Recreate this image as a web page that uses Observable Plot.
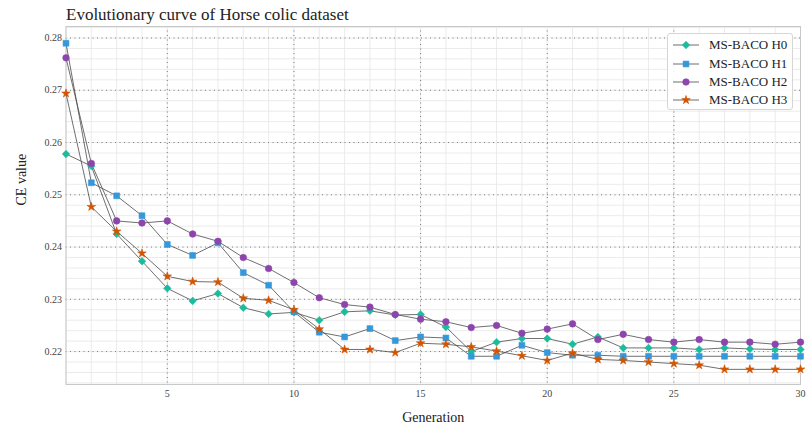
<!DOCTYPE html>
<html>
<head>
<meta charset="utf-8">
<script src="https://cdn.jsdelivr.net/npm/d3@7"></script>
<script src="https://cdn.jsdelivr.net/npm/@observablehq/plot@0.6"></script>
<style>
  body { margin: 0; background: #fff; font-family: "Liberation Serif", "Times New Roman", serif; }
  #wrap { position: relative; width: 807px; height: 434px; }
  #title { height: 25px; box-sizing: border-box; padding: 6px 0 0 66px; font-family: "Liberation Serif", serif;
           font-size: 17px; line-height: 1; color: #222; white-space: nowrap; }
  #legend { position: absolute; left: 667px; top: 33px; width: 126px; height: 77px; box-sizing: border-box;
            border: 1px solid #d6d6d6; border-radius: 3px; background: rgba(255,255,255,0.92); padding-top: 2px; }
  .row { display: flex; align-items: center; height: 18.4px; }
  .row svg { margin-left: 4px; }
  .row span { margin-left: 9px; font-family: "Liberation Serif", serif; font-size: 13px; color: #222; }
</style>
</head>
<body>
<div id="wrap">
  <div id="title">Evolutionary curve of Horse colic dataset</div>
  <div id="chart"></div>
  <div id="legend"></div>
</div>
<script>
// Generation index
const generations = [1,2,3,4,5,6,7,8,9,10,11,12,13,14,15,16,17,18,19,20,21,22,23,24,25,26,27,28,29,30];

// Best CE value per generation for each MS-BACO variant
const h0 = [0.2578,0.2555,0.2425,0.2373,0.2321,0.2297,0.2311,0.2284,0.2272,0.2275,
            0.2260,0.2276,0.2278,0.2270,0.2271,0.2247,0.2200,0.2218,0.2225,0.2225,
            0.2214,0.2228,0.2207,0.2207,0.2207,0.2204,0.2207,0.2205,0.2204,0.2204];
const h1 = [0.2790,0.2523,0.2498,0.2460,0.2405,0.2384,0.2408,0.2351,0.2327,0.2276,
            0.2237,0.2228,0.2244,0.2221,0.2228,0.2226,0.2191,0.2191,0.2212,0.2198,
            0.2193,0.2193,0.2191,0.2191,0.2191,0.2191,0.2191,0.2191,0.2191,0.2191];
const h2 = [0.2762,0.2560,0.2450,0.2446,0.2450,0.2425,0.2411,0.2380,0.2359,0.2332,
            0.2303,0.2290,0.2285,0.2271,0.2262,0.2257,0.2246,0.2250,0.2235,0.2243,
            0.2253,0.2223,0.2233,0.2223,0.2218,0.2223,0.2218,0.2218,0.2214,0.2218];
const h3 = [0.2694,0.2477,0.2430,0.2388,0.2344,0.2334,0.2333,0.2302,0.2298,0.2280,
            0.2243,0.2204,0.2204,0.2198,0.2216,0.2214,0.2209,0.2201,0.2192,0.2183,
            0.2197,0.2185,0.2183,0.2180,0.2177,0.2174,0.2166,0.2166,0.2166,0.2166];

const seriesNames = ["MS-BACO H0", "MS-BACO H1", "MS-BACO H2", "MS-BACO H3"];
const seriesValues = [h0, h1, h2, h3];
const seriesColors = ["#1abc9c", "#3498db", "#8e44ad", "#d35400"];
const seriesSymbols = ["diamond2", "square", "circle", "star"];
const seriesSizes = [3.4, 3.3, 3.3, 2.7];

// Axis ticks
const xTicks = [5, 10, 15, 20, 25, 30];
const yTicks = [0.22, 0.23, 0.24, 0.25, 0.26, 0.27, 0.28];
const yMinor = d3.range(0.214, 0.2821, 0.002);

const rows = seriesNames.flatMap((name, s) =>
  generations.map((g, i) => ({series: name, gen: g, ce: seriesValues[s][i]})));

const serif = "Liberation Serif, Times New Roman, serif";

const marks = [
  // minor grid
  Plot.gridX(generations, {stroke: "#e6e6e6", strokeOpacity: 1, strokeWidth: 0.8}),
  Plot.gridY(yMinor, {stroke: "#e6e6e6", strokeOpacity: 1, strokeWidth: 0.8}),
  // major grid (dotted)
  Plot.gridX(xTicks, {stroke: "#7a7a7a", strokeOpacity: 1, strokeWidth: 1, strokeDasharray: "1,3.5"}),
  Plot.gridY(yTicks, {stroke: "#7a7a7a", strokeOpacity: 1, strokeWidth: 1, strokeDasharray: "1,3.5"}),
  Plot.frame({stroke: "#c8c8c8", strokeWidth: 1}),
  Plot.axisX(xTicks, {tickSize: 0, tickPadding: 5, fontSize: 10, fill: "#444", fontFamily: serif, label: null}),
  Plot.axisY(yTicks, {tickSize: 0, tickPadding: 4, fontSize: 10, fill: "#444", fontFamily: serif, label: null,
                      tickFormat: d3.format(".2f")}),
  Plot.text(["CE value"], {frameAnchor: "left", dx: -44, rotate: -90, fontSize: 14, fontFamily: serif, fill: "#222"}),
  Plot.text(["Generation"], {frameAnchor: "bottom", dy: 37, fontSize: 14, fontFamily: serif, fill: "#222"}),
  // connecting lines
  Plot.line(rows, {x: "gen", y: "ce", z: "series", stroke: "#4a4a4a", strokeWidth: 0.8})
];

// markers, one mark per series so each gets its own symbol and size
seriesNames.forEach((name, s) => {
  marks.push(Plot.dot(rows.filter(d => d.series === name), {
    x: "gen", y: "ce", symbol: () => seriesSymbols[s], r: seriesSizes[s],
    fill: seriesColors[s], stroke: seriesColors[s], strokeWidth: 0.6
  }));
});

const chart = Plot.plot({
  width: 807,
  height: 409,
  marginLeft: 65.5,
  marginRight: 7,
  marginTop: 1,
  marginBottom: 50,
  style: {fontFamily: serif, background: "#fff"},
  x: {domain: [1, 30]},
  y: {domain: [0.2137, 0.2822]},
  symbol: {type: "identity"},
  marks
});
document.getElementById("chart").appendChild(chart);

// legend entries
const legend = d3.select("#legend");
seriesNames.forEach((name, s) => {
  const row = legend.append("div").attr("class", "row");
  const svg = row.append("svg").attr("width", 28).attr("height", 14);
  svg.append("line").attr("x1", 1).attr("x2", 27).attr("y1", 7).attr("y2", 7)
     .attr("stroke", "#4a4a4a").attr("stroke-width", 0.8);
  const sym = {diamond2: d3.symbolDiamond2, square: d3.symbolSquare, circle: d3.symbolCircle, star: d3.symbolStar}[seriesSymbols[s]];
  const r = seriesSizes[s];
  svg.append("path").attr("transform", "translate(14,7)")
     .attr("d", d3.symbol(sym, Math.PI * r * r)())
     .attr("fill", seriesColors[s]).attr("stroke", seriesColors[s]).attr("stroke-width", 0.6);
  row.append("span").text(name);
});
</script>
</body>
</html>
